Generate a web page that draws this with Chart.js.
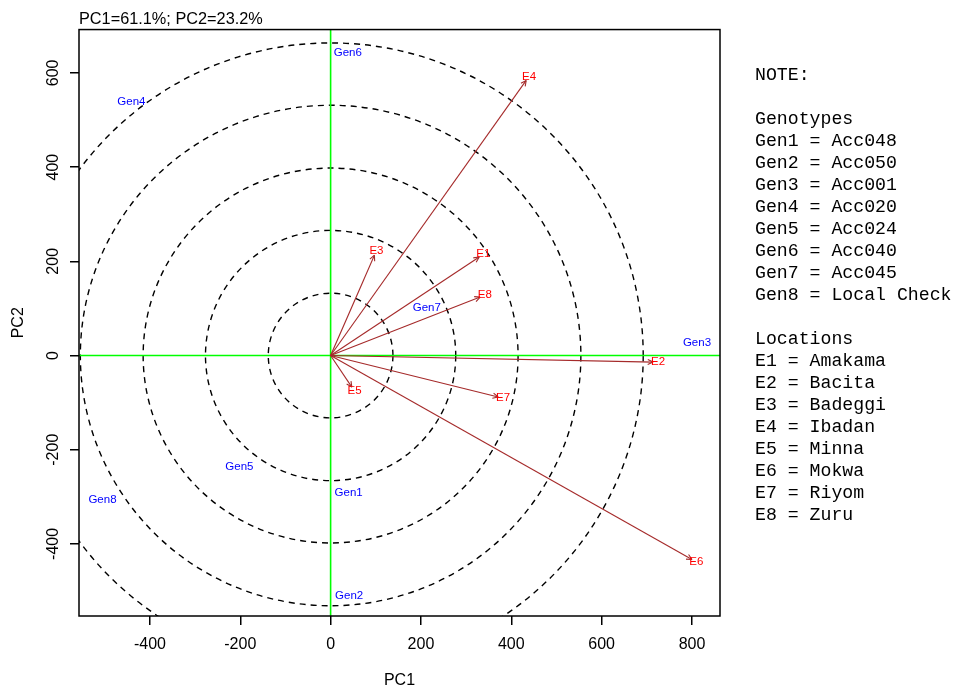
<!DOCTYPE html>
<html>
<head>
<meta charset="utf-8">
<title>GGE biplot</title>
<script src="https://cdn.jsdelivr.net/npm/chart.js@4.4.1/dist/chart.umd.min.js"></script>
<style>
  html, body { margin: 0; padding: 0; background: #fff; }
  #biplot { display: block; }
</style>
</head>
<body>
<canvas id="biplot" width="955" height="689"></canvas>
<script>
// environments (vector tips, PC1 / PC2 scores)
const envNames  = ['E1', 'E2', 'E3', 'E4', 'E5', 'E6', 'E7', 'E8'];
const envPC1    = [329, 714, 97, 433, 47, 800, 371, 331];
const envPC2    = [209, -14, 213, 584, -67, -433, -88, 124];
const locations = ['Amakama', 'Bacita', 'Badeggi', 'Ibadan', 'Minna', 'Mokwa', 'Riyom', 'Zuru'];

// genotypes
const genNames   = ['Gen1', 'Gen2', 'Gen3', 'Gen4', 'Gen5', 'Gen6', 'Gen7', 'Gen8'];
const genPC1     = [40, 41, 811, -441, -202, 38, 213, -505];
const genPC2     = [-292, -510, 27, 538, -236, 643, 101, -307];
const accessions = ['Acc048', 'Acc050', 'Acc001', 'Acc020', 'Acc024', 'Acc040', 'Acc045', 'Local Check'];

// concentric circles around the origin (PC1 units)
const circleRadii = [138, 277, 415, 554, 692];

// axes
const xTicks = [-400, -200, 0, 200, 400, 600, 800];
const yTicks = [-400, -200, 0, 200, 400, 600];
const xRange = [-557, 862];
const yRange = [-553, 692];
const titleText = 'PC1=61.1%; PC2=23.2%';

const SANS = "'Liberation Sans', Arial, sans-serif";
const MONO = "'Liberation Mono', 'Courier New', monospace";

const envData = envNames.map((n, i) => ({ x: envPC1[i], y: envPC2[i], label: n }));
const genData = genNames.map((n, i) => ({ x: genPC1[i], y: genPC2[i], label: n }));

// one line dataset per environment vector, from the origin to its score
const vectorSets = envData.map(p => ({
  type: 'line',
  label: p.label,
  data: [{ x: 0, y: 0 }, { x: p.x, y: p.y }],
  borderColor: '#A52A2A',
  borderWidth: 1.1,
  pointRadius: 0,
  showLine: true,
  fill: false
}));

const whiteBg = {
  id: 'whiteBg',
  beforeDraw(chart) {
    const c = chart.ctx;
    c.save();
    c.fillStyle = '#fff';
    c.fillRect(0, 0, chart.width, chart.height);
    c.restore();
  }
};

// circles and the green axes through the origin
const refLines = {
  id: 'refLines',
  beforeDatasetsDraw(chart) {
    const c = chart.ctx, xs = chart.scales.x, ys = chart.scales.y, a = chart.chartArea;
    const ox = xs.getPixelForValue(0), oy = ys.getPixelForValue(0);
    c.save();
    c.beginPath();
    c.rect(a.left, a.top, a.right - a.left, a.bottom - a.top);
    c.clip();

    c.strokeStyle = '#000';
    c.lineWidth = 1.4;
    c.setLineDash([6, 5]);
    circleRadii.forEach(r => {
      const rp = Math.abs(xs.getPixelForValue(r) - ox);
      c.beginPath();
      c.arc(ox, oy, rp, 0, Math.PI * 2);
      c.stroke();
    });
    c.setLineDash([]);

    c.strokeStyle = '#00FF00';
    c.lineWidth = 1.6;
    c.beginPath();
    c.moveTo(a.left, oy); c.lineTo(a.right, oy);
    c.moveTo(ox, a.top); c.lineTo(ox, a.bottom);
    c.stroke();
    c.restore();
  }
};

// arrow heads, point labels, frame and the note block
const overlay = {
  id: 'overlay',
  afterDatasetsDraw(chart) {
    const c = chart.ctx, xs = chart.scales.x, ys = chart.scales.y, a = chart.chartArea;
    const ox = xs.getPixelForValue(0), oy = ys.getPixelForValue(0);
    c.save();
    c.textAlign = 'center';
    c.textBaseline = 'middle';
    c.font = '11.5px ' + SANS;

    envData.forEach(p => {
      const px = xs.getPixelForValue(p.x), py = ys.getPixelForValue(p.y);
      const ang = Math.atan2(py - oy, px - ox);
      c.strokeStyle = '#A52A2A';
      c.lineWidth = 1.1;
      c.beginPath();
      [-0.45, 0.45].forEach(d => {
        c.moveTo(px, py);
        c.lineTo(px - 6 * Math.cos(ang + d), py - 6 * Math.sin(ang + d));
      });
      c.stroke();
      c.fillStyle = '#FF0000';
      c.fillText(p.label, px + 5 * Math.cos(ang), py + 5 * Math.sin(ang));
    });

    c.fillStyle = '#0000FF';
    genData.forEach(p => {
      c.fillText(p.label, xs.getPixelForValue(p.x), ys.getPixelForValue(p.y));
    });

    c.strokeStyle = '#000';
    c.lineWidth = 1.5;
    c.strokeRect(a.left, a.top, a.right - a.left, a.bottom - a.top);

    // note block on the right
    const lines = ['NOTE:', '', 'Genotypes']
      .concat(genNames.map((g, i) => g + ' = ' + accessions[i]))
      .concat(['', 'Locations'])
      .concat(envNames.map((e, i) => e + ' = ' + locations[i]));
    c.fillStyle = '#000';
    c.textAlign = 'left';
    c.font = '18.2px ' + MONO;
    lines.forEach((t, i) => c.fillText(t, 755, 75 + 22 * i));
    c.restore();
  }
};

const ctx = document.getElementById('biplot').getContext('2d');

new Chart(ctx, {
  type: 'scatter',
  data: {
    datasets: vectorSets.concat([{
      label: 'Genotypes',
      data: genData,
      pointRadius: 0,
      showLine: false
    }])
  },
  options: {
    responsive: false,
    animation: false,
    devicePixelRatio: 1,
    layout: { padding: { left: 0, right: 235, top: 0, bottom: 0 } },
    plugins: {
      legend: { display: false },
      tooltip: { enabled: false },
      title: {
        display: true,
        text: titleText,
        align: 'start',
        fullSize: false,
        color: '#000',
        font: { family: SANS, size: 16.3, weight: 'normal' },
        padding: { top: 10, bottom: 0 }
      }
    },
    scales: {
      x: {
        type: 'linear',
        min: xRange[0],
        max: xRange[1],
        afterBuildTicks: s => { s.ticks = xTicks.map(v => ({ value: v })); },
        afterFit: s => { s.height = 73; },
        grid: { drawOnChartArea: false, drawTicks: true, tickLength: 9, color: '#000', lineWidth: 1.5 },
        border: { display: false },
        ticks: { color: '#000', padding: 10, autoSkip: false, maxRotation: 0, font: { family: SANS, size: 16 } },
        title: { display: true, text: 'PC1', color: '#000', padding: 0, font: { family: SANS, size: 16, lineHeight: 1 } }
      },
      y: {
        type: 'linear',
        min: yRange[0],
        max: yRange[1],
        afterBuildTicks: s => { s.ticks = yTicks.map(v => ({ value: v })); },
        afterFit: s => { s.width = 79; },
        grid: { drawOnChartArea: false, drawTicks: true, tickLength: 9, color: '#000', lineWidth: 1.5 },
        border: { display: false },
        ticks: { color: '#000', padding: 0, autoSkip: false, minRotation: 90, maxRotation: 90, crossAlign: 'center', font: { family: SANS, size: 16 } },
        title: { display: true, text: 'PC2', color: '#000', padding: { top: 9, bottom: 0 }, font: { family: SANS, size: 16 } }
      }
    }
  },
  plugins: [whiteBg, refLines, overlay]
});
</script>
</body>
</html>
